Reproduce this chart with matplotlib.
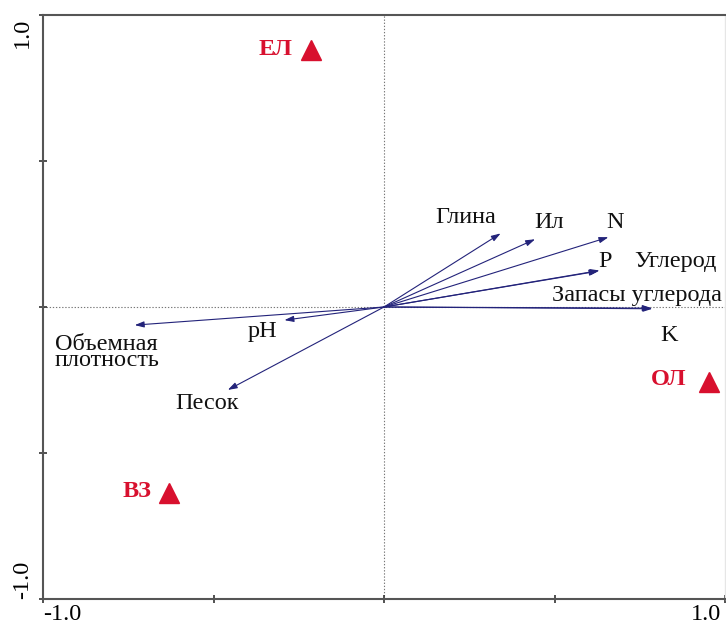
import matplotlib
matplotlib.use("Agg")
import matplotlib.pyplot as plt

plt.rcParams['font.family'] = ['Liberation Serif', 'DejaVu Serif']

# Environmental variables (biplot arrows)
var_names = ["Глина", "Ил", "N", "P", "Углерод", "Запасы углерода", "K",
             "pH", "Песок"]
var_x = [0.342, 0.443, 0.658, 0.629, 0.632, 0.785, 0.787, -0.292, -0.458]
var_y = [0.252, 0.232, 0.239, 0.123, 0.125, -0.004, -0.006, -0.045, -0.284]
var_label_x = [0.239, 0.483, 0.678, 0.649, 0.854, 0.741, 0.835, -0.357, -0.518]
var_label_y = [0.305, 0.288, 0.288, 0.155, 0.155, 0.038, -0.096, -0.085, -0.329]

# Bulk density arrow, label on two tight lines
bd_name = "Объемная\nплотность"
bd_x, bd_y = -0.731, -0.062
bd_label_x = -0.966
bd_label_y = -0.093

# Sites
site_names = ["ЕЛ", "ВЗ", "ОЛ"]
site_x = [-0.215, -0.630, 0.952]
site_y = [0.880, -0.638, -0.256]
site_label_x = [-0.318, -0.724, 0.835]
site_label_y = [0.883, -0.633, -0.250]

axis_labels = ["-1.0", "1.0"]

ARROW_C = "#23237a"
SITE_C = "#d8102e"
SPINE_C = "#555555"

fig = plt.figure(figsize=(7.26, 6.27), dpi=100)
ax = fig.add_axes([43 / 726, 28 / 627, 682 / 726, 584 / 627])
ax.set_xlim(-1, 1)
ax.set_ylim(-1, 1)

for side in ("left", "bottom", "top"):
    ax.spines[side].set_color(SPINE_C)
    ax.spines[side].set_linewidth(1.5)
ax.spines["right"].set_color("#e6e6e6")
ax.spines["right"].set_linewidth(1.0)

ax.set_xticks([-1, -0.5, 0, 0.5, 1])
ax.set_yticks([-1, -0.5, 0, 0.5, 1])
ax.set_xticklabels([])
ax.set_yticklabels([])
ax.tick_params(direction="inout", length=6, width=1.2, color="#333333")

# Origin cross lines
ax.axhline(0, color="#777777", lw=0.8, ls=(0, (1.2, 1.6)), zorder=1)
ax.axvline(0, color="#777777", lw=0.8, ls=(0, (1.2, 1.6)), zorder=1)

arrow_props = dict(arrowstyle="-|>,head_length=0.55,head_width=0.18",
                   color=ARROW_C, lw=0.8, shrinkA=0, shrinkB=0)

for name, x, y, lx, ly in zip(var_names, var_x, var_y, var_label_x, var_label_y):
    ax.annotate("", xy=(x, y), xytext=(0, 0), arrowprops=arrow_props, zorder=3)
    ax.text(lx, ly, name, fontsize=17.5, ha="center", va="center", color="#111111")

ax.annotate("", xy=(bd_x, bd_y), xytext=(0, 0), arrowprops=arrow_props, zorder=3)
ax.text(bd_label_x, bd_label_y, bd_name, fontsize=17.5, ha="left", va="top",
        linespacing=0.68, color="#111111")

ax.plot(site_x, site_y, ls="none", marker="^", ms=14, color=SITE_C,
        mec=SITE_C, zorder=4)
for name, lx, ly in zip(site_names, site_label_x, site_label_y):
    ax.text(lx, ly, name, fontsize=17.5, fontweight="bold", ha="center",
            va="center", color=SITE_C)

# End-value tick labels
ax.text(-1, -1.072, axis_labels[0], fontsize=17.5, ha="left", va="baseline",
        clip_on=False)
ax.text(0.99, -1.072, axis_labels[1], fontsize=17.5, ha="right", va="baseline",
        clip_on=False)
ax.text(-1.03, 0.99, axis_labels[1], fontsize=17.5, rotation=90, ha="right",
        va="top", clip_on=False)
ax.text(-1.03, -1.0, axis_labels[0], fontsize=17.5, rotation=90, ha="right",
        va="bottom", clip_on=False)

fig.savefig("out.png", dpi=100)
